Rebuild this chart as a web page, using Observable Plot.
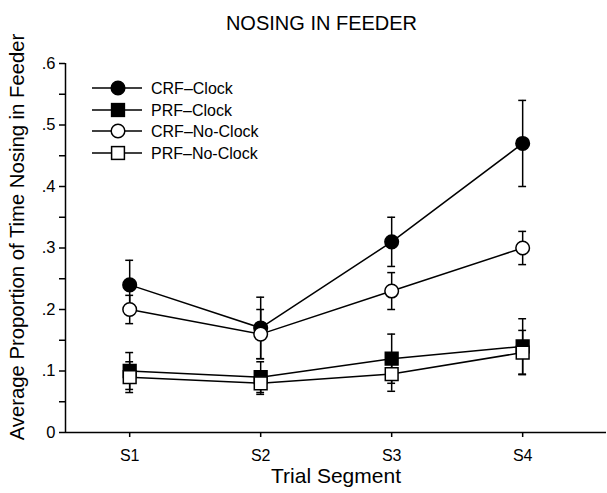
<!DOCTYPE html>
<html>
<head>
<meta charset="utf-8">
<script src="https://cdn.jsdelivr.net/npm/d3@7"></script>
<script src="https://cdn.jsdelivr.net/npm/@observablehq/plot@0.6"></script>
<style>
  body { margin: 0; background: #fff; font-family: "Liberation Sans", Arial, sans-serif; }
  #wrap { position: relative; width: 607px; height: 493px; }
  #title { position: absolute; left: 0; top: 0; width: 607px; height: 40px; text-align: center; font-size: 20px; line-height: 46px; color: #000; padding-left: 36px; box-sizing: border-box; z-index: 2; }
  #legend { position: absolute; left: 0; top: 0; pointer-events: none; }
</style>
</head>
<body>
<div id="wrap">
  <div id="chart"></div>
  <div id="title">NOSING IN FEEDER</div>
</div>
<script>
const segments = ["S1", "S2", "S3", "S4"];
const seriesNames = ["CRF–Clock", "PRF–Clock", "CRF–No-Clock", "PRF–No-Clock"];
const crfClock = [0.24, 0.17, 0.31, 0.47];
const crfClockErr = [0.04, 0.05, 0.04, 0.07];
const prfClock = [0.10, 0.09, 0.12, 0.14];
const prfClockErr = [0.03, 0.025, 0.04, 0.045];
const crfNoClock = [0.20, 0.16, 0.23, 0.30];
const crfNoClockErr = [0.023, 0.04, 0.03, 0.027];
const prfNoClock = [0.09, 0.08, 0.095, 0.13];
const prfNoClockErr = [0.025, 0.018, 0.028, 0.036];
const yTicks = [0, 0.1, 0.2, 0.3, 0.4, 0.5, 0.6];
const yTickLabels = ["0", ".1", ".2", ".3", ".4", ".5", ".6"];
const yMinorTicks = [0.05, 0.15, 0.25, 0.35, 0.45, 0.55];

const seriesDefs = [
  {name: seriesNames[0], values: crfClock, errs: crfClockErr, symbol: "circle", fill: "black"},
  {name: seriesNames[1], values: prfClock, errs: prfClockErr, symbol: "square", fill: "black"},
  {name: seriesNames[2], values: crfNoClock, errs: crfNoClockErr, symbol: "circle", fill: "white"},
  {name: seriesNames[3], values: prfNoClock, errs: prfNoClockErr, symbol: "square", fill: "white"}
];
const data = seriesDefs.flatMap(s => s.values.map((v, i) => ({
  series: s.name, x: i + 1, y: v, lo: v - s.errs[i], hi: v + s.errs[i], symbol: s.symbol, fill: s.fill
})));
const capHalf = 0.03;
const font = "Liberation Sans, Arial, sans-serif";

const markerMarks = seriesDefs.map(s => Plot.dot(data.filter(d => d.series === s.name), {
  x: "x", y: "y", symbol: s.symbol, r: s.symbol === "circle" ? 6.8 : 7.2,
  fill: s.fill, stroke: "black", strokeWidth: 1.5
}));

const plot = Plot.plot({
  width: 607,
  height: 493,
  marginTop: 63,
  marginBottom: 61,
  marginLeft: 65,
  marginRight: 1,
  style: {fontFamily: font, fontSize: "16px", color: "#000", background: "#fff"},
  x: {type: "linear", domain: [0.51, 4.64]},
  y: {domain: [0, 0.6]},
  marks: [
    Plot.ruleY([0], {stroke: "black", strokeWidth: 1.5}),
    Plot.ruleX([0.51], {y1: 0, y2: 0.6, stroke: "black", strokeWidth: 1.5}),
    Plot.axisX({ticks: [1, 2, 3, 4], tickFormat: i => segments[i - 1], tickSize: 5, tickPadding: 12, fontSize: 16, label: null, strokeWidth: 1.5}),
    Plot.axisY({ticks: yTicks, tickFormat: (v, i) => yTickLabels[i], tickSize: 6, tickPadding: 4, fontSize: 16.5, label: null, strokeWidth: 1.5}),
    Plot.axisY({ticks: yMinorTicks, tickFormat: () => "", tickSize: 6, label: null, strokeWidth: 1.5}),
    // error bars
    Plot.ruleX(data, {x: "x", y1: "lo", y2: "hi", stroke: "black", strokeWidth: 1.5}),
    Plot.ruleY(data, {y: "hi", x1: d => d.x - capHalf, x2: d => d.x + capHalf, stroke: "black", strokeWidth: 1.5}),
    Plot.ruleY(data, {y: "lo", x1: d => d.x - capHalf, x2: d => d.x + capHalf, stroke: "black", strokeWidth: 1.5}),
    // lines
    Plot.line(data, {x: "x", y: "y", z: "series", stroke: "black", strokeWidth: 1.5}),
    // markers
    ...markerMarks,
    // axis titles
    Plot.text(["Trial Segment"], {frameAnchor: "bottom", dy: 50, fontSize: 21, fill: "black"}),
    Plot.text(["Average Proportion of Time Nosing in Feeder"], {frameAnchor: "left", textAnchor: "middle", rotate: -90, dx: -48, dy: -11, fontSize: 20.3, fill: "black"})
  ]
});
plot.setAttribute("font-family", font);
document.getElementById("chart").appendChild(plot);

// legend overlay
const leg = d3.select("#wrap").append("svg").attr("id", "legend")
  .attr("width", 607).attr("height", 493);
const rowY = [88, 110, 131, 153];
seriesDefs.forEach((s, i) => {
  const g = leg.append("g").attr("transform", `translate(0,${rowY[i]})`);
  g.append("line").attr("x1", 92).attr("x2", 142).attr("y1", 0).attr("y2", 0)
    .attr("stroke", "black").attr("stroke-width", 1.5);
  if (s.symbol === "circle") {
    g.append("circle").attr("cx", 118).attr("cy", 0).attr("r", 6.8)
      .attr("fill", s.fill).attr("stroke", "black").attr("stroke-width", 1.5);
  } else {
    g.append("rect").attr("x", 118 - 6.4).attr("y", -6.4).attr("width", 12.8).attr("height", 12.8)
      .attr("fill", s.fill).attr("stroke", "black").attr("stroke-width", 1.5);
  }
  g.append("text").attr("x", 151).attr("y", 0).attr("dy", "0.35em")
    .attr("font-family", font).attr("font-size", 16).text(s.name);
});
</script>
</body>
</html>
